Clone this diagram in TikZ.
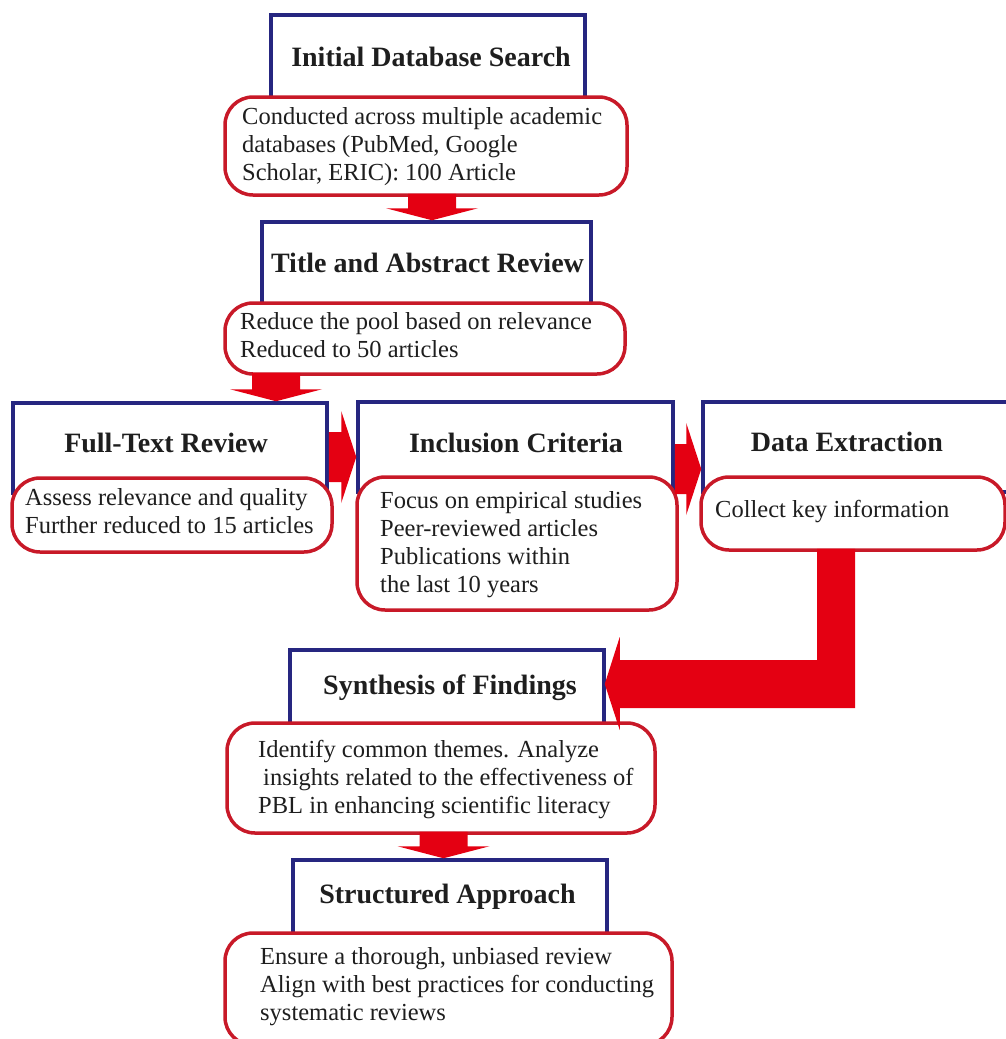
\documentclass[tikz,border=0pt]{standalone}
\usepackage{fontspec}
\setmainfont{Liberation Serif}
\usetikzlibrary{calc}
\definecolor{bluec}{RGB}{38,38,128}
\definecolor{redline}{RGB}{200,25,40}
\definecolor{arrowred}{RGB}{228,0,18}
\definecolor{textc}{RGB}{30,30,30}
\newcommand\vblock[4]{%
  \fill[blockarrow] ($(#1.south)+(#3-24,-3)$) -- ($(#1.south)+(#3+24,-3)$)
    -- ($(#2.north)+(#4+24,-12)$) -- ($(#2.north)+(#4+46,-12)$)
    -- ($(#2.north)+(#4,0)$) -- ($(#2.north)+(#4-46,-12)$)
    -- ($(#2.north)+(#4-24,-12)$) -- cycle;}
\newcommand\hblock[4]{%
  \fill[blockarrow] ($(#1.east)+(0,#3-25)$) -- ($(#2.west)+(-15,#4-25)$)
    -- ($(#2.west)+(-15,#4-46)$) -- ($(#2.west)+(0,#4)$)
    -- ($(#2.west)+(-15,#4+46)$) -- ($(#2.west)+(-15,#4+25)$)
    -- ($(#1.east)+(0,#3+25)$) -- cycle;}
\begin{document}
\begin{tikzpicture}[x=1pt,y=-1pt,
  bluebox/.style={draw=bluec, line width=3.5pt, fill=white, inner sep=0pt},
  redbox/.style={draw=redline, line width=3.5pt, fill=white, rounded corners=28pt, inner sep=0pt},
  headtext/.style={font=\fontsize{28}{32}\selectfont\bfseries, text=textc, inner sep=0pt, anchor=base},
  bodytext/.style={font=\fontsize{24.5}{28}\selectfont, text=textc, align=left, inner sep=0pt, anchor=base west},
  blockarrow/.style={fill=arrowred}]
\clip (0,0) rectangle (1006,1039);
\fill[white] (0,0) rectangle (1006,1039);
% blue title boxes
\node[bluebox, minimum width=314pt, minimum height=100pt] (b1) at (428,65) {};
\node[bluebox, minimum width=329pt, minimum height=96pt] (b2) at (426.5,270) {};
\node[bluebox, minimum width=314pt, minimum height=90pt] (b3) at (170,448) {};
\node[bluebox, minimum width=315pt, minimum height=90pt] (b4) at (515.5,447) {};
\node[bluebox, minimum width=327pt, minimum height=90pt] (b5) at (866.5,447) {};
\node[bluebox, minimum width=314pt, minimum height=88pt] (b6) at (447,694) {};
\node[bluebox, minimum width=314pt, minimum height=88pt] (b7) at (450,904) {};
% red rounded text boxes
\node[redbox, minimum width=402pt, minimum height=98pt] (r1) at (426,146) {};
\node[redbox, minimum width=400pt, minimum height=71pt] (r2) at (425,338.5) {};
\node[redbox, minimum width=320pt, minimum height=74pt] (r3) at (172,515) {};
\node[redbox, minimum width=320pt, minimum height=133pt] (r4) at (517,543.5) {};
\node[redbox, minimum width=304pt, minimum height=73pt] (r5) at (853,513.5) {};
\node[redbox, minimum width=428pt, minimum height=110pt] (r6) at (441,778) {};
\node[redbox, minimum width=447pt, minimum height=112pt] (r7) at (448.5,989) {};
% headings
\node[headtext] (h1) at (431,66) {Initial Database Search};
\node[headtext] (h2) at (427.5,272) {Title and Abstract Review};
\node[headtext] (h3) at (166,452) {Full-Text Review};
\node[headtext] (h4) at (516,452) {Inclusion Criteria};
\node[headtext] (h5) at (847,451) {Data Extraction};
\node[headtext] (h6) at (450,694) {Synthesis of Findings};
\node[headtext] (h7) at (447.5,903) {Structured Approach};
% body texts (anchor = baseline of last line)
\node[bodytext] (t1) at (242,180) {Conducted across multiple academic\\databases (PubMed, Google\\Scholar, ERIC): 100 Article};
\node[bodytext] (t2) at (240,357) {Reduce the pool based on relevance\\Reduced to 50 articles};
\node[bodytext] (t3) at (25,533) {Assess relevance and quality\\Further reduced to 15 articles};
\node[bodytext] (t4) at (380,592) {Focus on empirical studies\\Peer-reviewed articles\\Publications within\\the last 10 years};
\node[bodytext] (t5) at (715,517) {Collect key information};
\node[bodytext] (t6) at (258,813) {Identify common themes. Analyze\\\hspace*{5pt}insights related to the effectiveness of\\PBL in enhancing scientific literacy};
\node[bodytext] (t7) at (260,1020) {Ensure a thorough, unbiased review\\Align with best practices for conducting\\systematic reviews};
% block arrows
\vblock{r1}{b2}{6}{5.5}
\vblock{r2}{b3}{-149}{106}
\hblock{b3}{b4}{9}{10}
\hblock{b4}{b5}{22}{22}
\vblock{r6}{b7}{2.5}{-6.5}
\coordinate (e1) at ($(r5.south)+(2,-3)$);
\coordinate (e0) at ($(r5.south)+(-36,-3)$);
\coordinate (e2) at ($(b6.east)+(14,14)$);
\coordinate (e3) at ($(b6.east)+(14,-34)$);
\fill[blockarrow] (e0) -- (e1) -- (e1 |- e2) -- (e2) -- ($(b6.east)+(14,36)$)
  -- ($(b6.east)+(-1,-10)$) -- ($(b6.east)+(14,-57)$) -- (e3) -- (e0 |- e3) -- cycle;
\end{tikzpicture}
\end{document}
